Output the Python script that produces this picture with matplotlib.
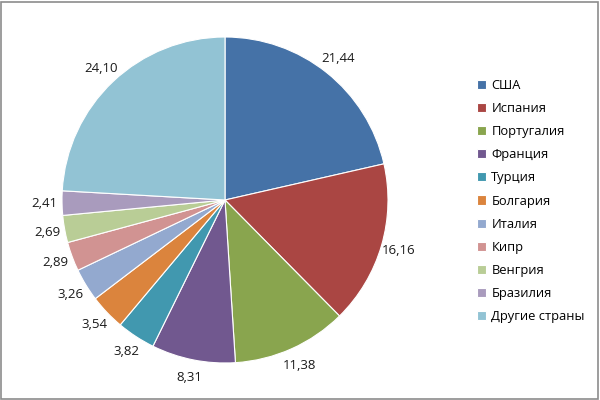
import matplotlib
matplotlib.use("Agg")
import numpy as np
import matplotlib.pyplot as plt
from matplotlib.patches import Rectangle

categories = ["США", "Испания", "Португалия", "Франция", "Турция", "Болгария",
              "Италия", "Кипр", "Венгрия", "Бразилия", "Другие страны"]
values = [21.44, 16.16, 11.38, 8.31, 3.82, 3.54, 3.26, 2.89, 2.69, 2.41, 24.10]
labels = ["21,44", "16,16", "11,38", "8,31", "3,82", "3,54", "3,26", "2,89", "2,69", "2,41", "24,10"]
colors = ["#4572A7", "#AA4643", "#89A54E", "#71588F", "#4198AF", "#DB843D",
          "#93A9CF", "#D19392", "#B9CD96", "#A99BBD", "#92C3D4"]

plt.rcParams['font.family'] = ['Open Sans', 'DejaVu Sans']

fig = plt.figure(figsize=(6, 4), dpi=100)
fig.patch.set_facecolor("white")
fig.add_artist(Rectangle((0.002, 0.003), 0.995, 0.993, transform=fig.transFigure,
                         fill=False, edgecolor="#8c8c8c", linewidth=1.2))

r = 163
cx, cy = 225, 200
ax = fig.add_axes([(cx - r) / 600, (cy - r) / 400, 2 * r / 600, 2 * r / 400])
wedges, _ = ax.pie(values, colors=colors, startangle=90, counterclock=False,
                   wedgeprops=dict(edgecolor="white", linewidth=0.8))
ax.set_xlim(-1, 1)
ax.set_ylim(-1, 1)
ax.set_aspect("equal")

# data labels centred just outside each wedge
for w, lab in zip(wedges, labels):
    ang = np.deg2rad((w.theta1 + w.theta2) / 2)
    d = 1.11
    ax.text(d * np.cos(ang), d * np.sin(ang), lab, ha="center", va="center",
            fontsize=9.5, color="#1a1a1a", clip_on=False)

fig.legend(wedges, categories, loc="upper left", bbox_to_anchor=(472 / 600, 1 - 74 / 400),
           frameon=False, fontsize=9.3, handlelength=0.7, handleheight=0.7,
           handletextpad=0.4, labelspacing=0.78, borderaxespad=0)

fig.savefig("out.png", dpi=100)
